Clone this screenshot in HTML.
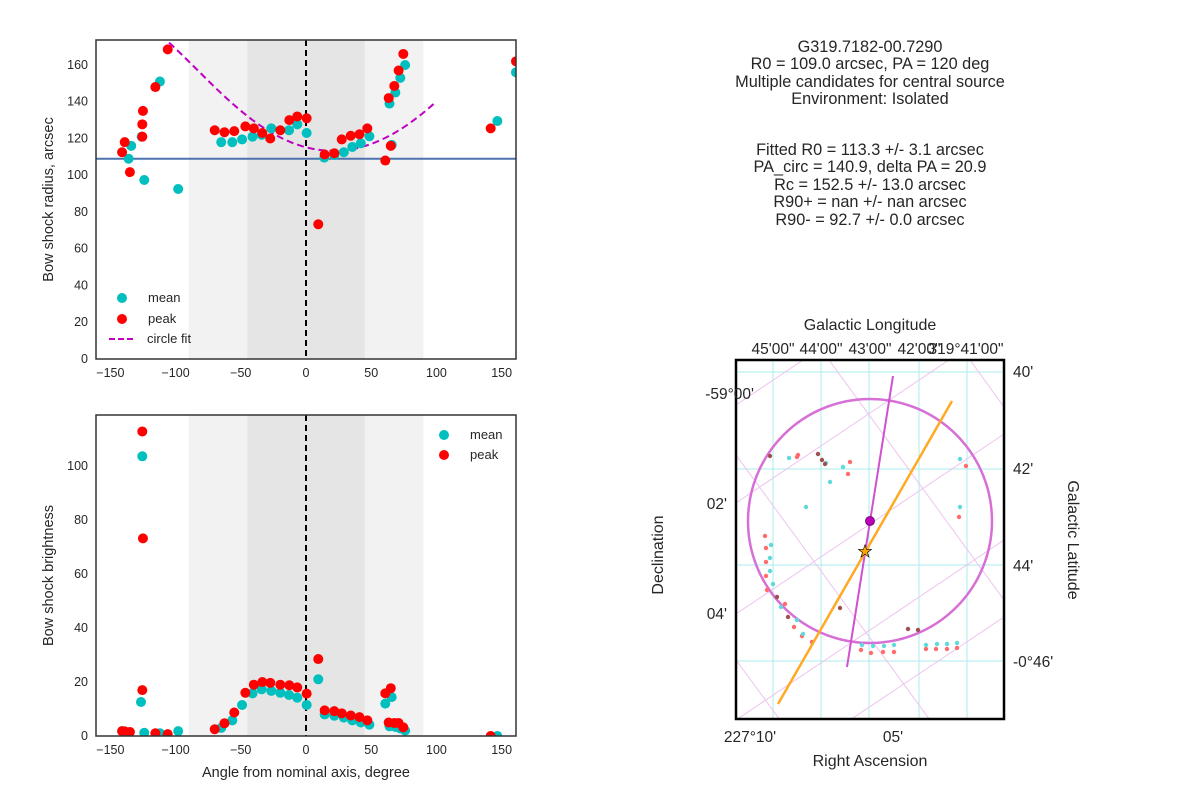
<!DOCTYPE html>
<html><head><meta charset="utf-8"><style>
body{margin:0;background:#fff;font-family:"Liberation Sans","DejaVu Sans",sans-serif;}
svg text{font-family:"Liberation Sans","DejaVu Sans",sans-serif;fill:#262626;}
</style></head><body>
<svg id="fig" width="1200" height="800" viewBox="0 0 1200 800">
<g id="top"></g>
<g id="bot"></g>
<g id="info" font-size="16.3" text-anchor="middle">
<text x="870" y="52">G319.7182-00.7290</text>
<text x="870" y="69">R0 = 109.0 arcsec, PA = 120 deg</text>
<text x="870" y="87">Multiple candidates for central source</text>
<text x="870" y="104">Environment: Isolated</text>
<text x="870" y="155">Fitted R0 = 113.3 +/- 3.1 arcsec</text>
<text x="870" y="172">PA_circ = 140.9, delta PA = 20.9</text>
<text x="870" y="190">Rc = 152.5 +/- 13.0 arcsec</text>
<text x="870" y="207">R90+ = nan +/- nan arcsec</text>
<text x="870" y="225">R90- = 92.7 +/- 0.0 arcsec</text>
</g>
<g id="sky"></g>
</svg>
<script>
// ---- data: radius panel ----
const meanAngR=[-136,-134,-126,-124,-112,-98,-65,-56.5,-49,-41,-34,-26.6,-13,-6.7,0.5,14,21.7,29,35.5,42,48.6,64,65.7,68.5,72.3,76,146.7,161];
const meanRad=[109,116,121,97.4,151,92.5,118,118,119.5,121,122,125.5,124.5,127.7,123,109.6,111,112.5,115.4,117.4,121.2,139,116.5,145,153,160,129.5,156];
const peakAngR=[-141,-139,-135,-125.5,-125.5,-125,-115.5,-106,-70,-62.5,-55,-46.5,-40,-33.5,-27.4,-19.7,-12.8,-6.7,0.5,9.4,14.3,21.7,27.4,34.3,41,47,60.8,65,63.4,67.7,71,74.6,141.6,161];
const peakRad=[112.5,118,101.7,121,127.7,135,148,168.5,124.5,123.4,124,126.6,125.5,123,120,124.5,130,132,131,73.3,111.3,112,119.5,121.5,122.3,125.5,108,116,142,148.6,157,166,125.5,162];
// ---- data: brightness panel ----
const meanAngB=[-141,-124,-126.5,-125.5,-112,-98,-65,-56.5,-49,-41,-34,-26.6,-19.7,-13,-6.7,0.5,9.4,14.3,21.7,29,35.5,42,48.6,60.8,65.7,64,68.5,72.3,76,146.7];
const meanBr=[1.8,1.2,12.6,103.6,1,1.8,3,5.8,11.5,15.8,17.3,16.7,16,15.2,14.2,11.5,21,8,7.5,6.8,5.8,5,4.2,12,14.4,3.6,3.4,2.8,2,0];
const peakAngB=[-141,-139,-135,-125.5,-125,-125.5,-115.5,-106,-70,-62.5,-55,-46.5,-40,-33.5,-27.4,-19.7,-12.8,-6.7,0.5,9.4,14.3,21.7,27.4,34.3,41,47,60.8,65,63.4,67.7,71,74.6,141.6];
const peakBr=[1.8,1.7,1.5,112.8,73.2,17,1,0.7,2.5,4.7,8.7,16,19,20,19.7,19,18.8,18,15.7,28.5,9.5,9.2,8.4,7.6,7,5.8,15.8,17.7,5,4.8,4.8,3.2,0];
const xTicks=[-150,-100,-50,0,50,100,150];
const yTicksR=[0,20,40,60,80,100,120,140,160];
const yTicksB=[0,20,40,60,80,100];
const R0nom=109, fitR0=113.3, fitRc=152.5, fitPA=20.9;

const NS='http://www.w3.org/2000/svg';
function mk(p,tag,attrs,txt){const e=document.createElementNS(NS,tag);for(const k in attrs)e.setAttribute(k,attrs[k]);if(txt!==undefined)e.textContent=txt;p.appendChild(e);return e;}

function panel(g,top,bottom,ymax,yTicks,ylabel,showX){
  const L=96,R=516,xmin=-161,xmax=161;
  const sx=v=>L+(v-xmin)/(xmax-xmin)*(R-L);
  const sy=v=>bottom-v/ymax*(bottom-top);
  const b1=mk(g,'rect',{x:sx(-90),y:top,width:sx(90)-sx(-90),height:bottom-top,fill:'#f2f2f2'});
  
  
  const b2=mk(g,'rect',{x:sx(-45),y:top,width:sx(45)-sx(-45),height:bottom-top,fill:'#e5e5e5'});
  
  
  xTicks.forEach(t=>{const e=mk(g,'text',{x:sx(t),y:bottom+18,'font-size':12.5,'text-anchor':'middle'},t===0?'0':(t<0?'\u2212'+(-t):t));
    
    });
  yTicks.forEach(t=>{const e=mk(g,'text',{x:L-8,y:sy(t)+4,'font-size':12.5,'text-anchor':'end'},t);
    
    });
  const yl=mk(g,'text',{x:0,y:0,'font-size':14.5,'text-anchor':'middle',transform:`translate(53,${(top+bottom)/2}) rotate(-90)`},ylabel);
  
  
  if(showX){const xl=mk(g,'text',{x:(L+R)/2,y:bottom+41,'font-size':14.5,'text-anchor':'middle'},'Angle from nominal axis, degree');
    
    }
  return {sx,sy,L,R,top,bottom};
}
function dots(g,ax,xs,ys,col,name){
  xs.forEach((x,i)=>{const c=mk(g,'circle',{cx:ax.sx(x),cy:ax.sy(ys[i]),r:5,fill:col});
    
    });
}
function frame(g,ax){
  const f=mk(g,'rect',{x:ax.L,y:ax.top,width:ax.R-ax.L,height:ax.bottom-ax.top,fill:'none',stroke:'#333',"stroke-width":1.5});
  
  
}
// top
const gt=document.getElementById('top');
const cp=mk(gt,'clipPath',{id:'ct'});mk(cp,'rect',{x:96,y:40,width:420,height:319});
const at=panel(gt,40,359,173.6,yTicksR,'Bow shock radius, arcsec',false);
const gtc=mk(gt,'g',{'clip-path':'url(#ct)'});
const hl=mk(gtc,'line',{x1:96,x2:516,y1:at.sy(R0nom),y2:at.sy(R0nom),stroke:'#4c72b0','stroke-width':2});


const vl=mk(gtc,'line',{x1:at.sx(0),x2:at.sx(0),y1:40,y2:359,stroke:'#000','stroke-width':2,'stroke-dasharray':'6,4'});


let pts=[];const D=fitRc-fitR0;
for(let th=-105;th<=100;th+=2){const d=(th-fitPA)*Math.PI/180;const r=-D*Math.cos(d)+Math.sqrt(fitRc*fitRc-D*D*Math.sin(d)**2);pts.push(at.sx(th)+','+at.sy(r));}
const cf=mk(gtc,'polyline',{points:pts.join(' '),fill:'none',stroke:'#bf00bf','stroke-width':2,'stroke-dasharray':'7,4'});


dots(gtc,at,meanAngR,meanRad,'#00bfbf','mean-point');
dots(gtc,at,peakAngR,peakRad,'#ff0000','peak-point');
frame(gt,at);
const lg=mk(gt,'g',{'font-size':13});


mk(lg,'circle',{cx:122,cy:298,r:5,fill:'#00bfbf'});mk(lg,'text',{x:148,y:302},'mean');
mk(lg,'circle',{cx:122,cy:319,r:5,fill:'#ff0000'});mk(lg,'text',{x:148,y:323},'peak');
mk(lg,'line',{x1:109,x2:136,y1:339,y2:339,stroke:'#bf00bf','stroke-width':2,'stroke-dasharray':'6,3'});mk(lg,'text',{x:147,y:343},'circle fit');
// bottom
const gb=document.getElementById('bot');
const cb=mk(gb,'clipPath',{id:'cb'});mk(cb,'rect',{x:96,y:415,width:420,height:321});
const ab=panel(gb,415,736,118.9,yTicksB,'Bow shock brightness',true);
const gbc=mk(gb,'g',{'clip-path':'url(#cb)'});
const vl2=mk(gbc,'line',{x1:ab.sx(0),x2:ab.sx(0),y1:415,y2:736,stroke:'#000','stroke-width':2,'stroke-dasharray':'6,4'});


dots(gbc,ab,meanAngB,meanBr,'#00bfbf','mean-point');
dots(gbc,ab,peakAngB,peakBr,'#ff0000','peak-point');
frame(gb,ab);
const lg2=mk(gb,'g',{'font-size':13});


mk(lg2,'circle',{cx:444,cy:435,r:5,fill:'#00bfbf'});mk(lg2,'text',{x:470,y:439},'mean');
mk(lg2,'circle',{cx:444,cy:455,r:5,fill:'#ff0000'});mk(lg2,'text',{x:470,y:459},'peak');

// sky panel
const gs=document.getElementById('sky');
const cs=mk(gs,'clipPath',{id:'cs'});mk(cs,'rect',{x:736,y:360,width:268,height:359});
const gsc=mk(gs,'g',{'clip-path':'url(#cs)'});
const gridX=[773,821,869,919,967], gridY=[372,469,565,661];
gridX.forEach(x=>mk(gsc,'line',{x1:x,x2:x,y1:360,y2:719,stroke:'#a8eeee','stroke-width':1}));
gridY.forEach(y=>mk(gsc,'line',{x1:736,x2:1004,y1:y,y2:y,stroke:'#a8eeee','stroke-width':1}));
[[736,405,1004,225],[736,503,1004,323],[736,614,1004,434],[736,720,1004,540],[850,720,1004,617]].forEach(l=>mk(gsc,'line',{x1:l[0],y1:l[1],x2:l[2],y2:l[3],stroke:'#eec4ee','stroke-width':1}));
[[736,455,930,720],[829,360,1004,600],[736,660,780,720],[970,360,1004,407]].forEach(l=>mk(gsc,'line',{x1:l[0],y1:l[1],x2:l[2],y2:l[3],stroke:'#eec4ee','stroke-width':1}));
const circ=mk(gsc,'circle',{cx:870,cy:521,r:122,fill:'none',stroke:'#d66fd6','stroke-width':2.5});


const skyR=[[798,455],[797,457],[850,462],[848,474],[966,466],[959,517],[765,536],[766,548],[766,562],[766,576],[767,590],[785,604],[794,627],[802,636],[812,642],[861,650],[871,653],[883,652],[894,652],[926,649],[936,649],[947,649],[957,648]];
const skyC=[[789,458],[826,463],[843,467],[830,482],[806,507],[960,459],[960,507],[771,545],[770,558],[770,571],[773,584],[781,607],[797,620],[803,634],[862,645],[873,646],[884,646],[894,645],[926,645],[937,644],[947,644],[957,643]];
const skyD=[[770,456],[818,454],[822,460],[825,464],[777,597],[788,617],[840,608],[908,629],[918,630]];
skyR.forEach(p=>mk(gsc,'circle',{cx:p[0],cy:p[1],r:2.2,fill:'#ff6b6b'}));
skyC.forEach(p=>mk(gsc,'circle',{cx:p[0],cy:p[1],r:2.2,fill:'#5fd9d9'}));
skyD.forEach(p=>mk(gsc,'circle',{cx:p[0],cy:p[1],r:2.2,fill:'#a05050'}));
const pl=mk(gsc,'line',{x1:893,y1:376,x2:847,y2:667,stroke:'#d050d0','stroke-width':2});


const ol=mk(gsc,'line',{x1:952,y1:401,x2:778,y2:704,stroke:'#ffaa22','stroke-width':2.5});


mk(gsc,'circle',{cx:870,cy:521,r:4.5,fill:'#bb00bb',stroke:'#600060','stroke-width':0.8});
const st=mk(gsc,'text',{x:865,y:557,'font-size':17,'text-anchor':'middle',style:'fill:#ffa500;stroke:#000;stroke-width:0.6'},'\u2605');


const fr=mk(gs,'rect',{x:736,y:360,width:268,height:359,fill:'none',stroke:'#000','stroke-width':2.5});


const lab=(x,y,t,a,sz,rot,name)=>{const e=mk(gs,'text',rot?{x:0,y:0,'font-size':sz,'text-anchor':a,transform:`translate(${x},${y}) rotate(${rot})`}:{x,y,'font-size':sz,'text-anchor':a},t);
  
  };
lab(870,330,'Galactic Longitude','middle',16,0,'top-axis-title');
lab(870,766,'Right Ascension','middle',16,0,'x-axis-title');
lab(663,555,'Declination','middle',16,-90,'y-axis-title');
lab(1068,540,'Galactic Latitude','middle',16,90,'right-axis-title');
[['45\'00"',773],['44\'00"',821],['43\'00"',870],['42\'00"',919],['319\u00b041\'00"',966]].forEach(t=>lab(t[1],354,t[0],'middle',15.5,0,'top-tick-label'));
lab(754,399,'-59\u00b000\'','end',15.5,0,'left-tick-label');
lab(727,509,'02\'','end',15.5,0,'left-tick-label');
lab(727,619,'04\'','end',15.5,0,'left-tick-label');
lab(1013,377,'40\'','start',15.5,0,'right-tick-label');
lab(1013,474,'42\'','start',15.5,0,'right-tick-label');
lab(1013,571,'44\'','start',15.5,0,'right-tick-label');
lab(1013,667,'-0\u00b046\'','start',15.5,0,'right-tick-label');
lab(750,742,'227\u00b010\'','middle',15.5,0,'bottom-tick-label');
lab(893,742,'05\'','middle',15.5,0,'bottom-tick-label');
</script>
</body></html>
